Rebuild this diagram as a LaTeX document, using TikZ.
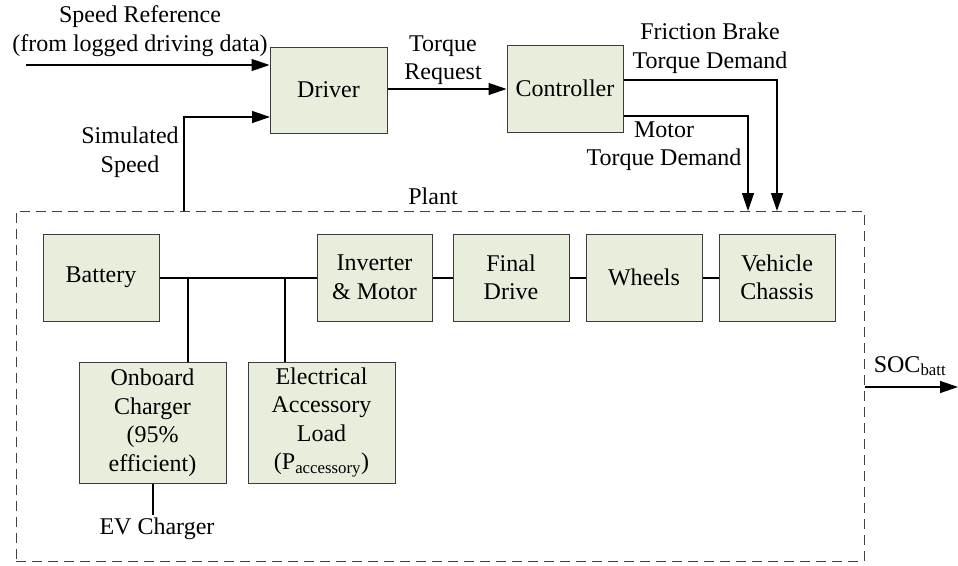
\documentclass[tikz,border=0pt]{standalone}
\usepackage{fontspec}
\setmainfont{Liberation Serif}
\setsansfont{Liberation Serif}
\newfontfamily\tnr{Liberation Serif}
\usetikzlibrary{arrows.meta}
\definecolor{boxfill}{RGB}{232,238,220}
\definecolor{boxline}{RGB}{60,60,60}
\tikzset{
  blk/.style={draw=boxline, fill=boxfill, line width=1pt, inner sep=0pt, align=center},
  lbl/.style={inner sep=0pt, align=center},
  wire/.style={line width=1.3pt, black},
  arr/.style={wire, -{Triangle[length=18pt,width=12pt]}},
  plantbox/.style={draw=black!75, dash pattern=on 10pt off 6pt, line width=1pt, inner sep=0pt}
}
\begin{document}
\begin{tikzpicture}[x=1pt,y=-1pt,font=\rmfamily\tnr\fontsize{24}{28.5}\selectfont]
\useasboundingbox (0,0) rectangle (958,565);
% top blocks
\node[blk, minimum width=117pt, minimum height=86pt] (driver) at (328.5,90) {Driver};
\node[blk, minimum width=116pt, minimum height=87pt] (controller) at (565,88.5) {Controller};
% plant
\node[plantbox, minimum width=848pt, minimum height=350pt] (plant) at (440,386) {};
\node[lbl] (plantlbl) at (433,196) {Plant};
% plant blocks
\node[blk, minimum width=116pt, minimum height=87pt] (battery) at (101,277.5) {Battery};
\node[blk, minimum width=115pt, minimum height=87pt] (inverter) at (374.5,277.5) {Inverter\\\& Motor};
\node[blk, minimum width=116pt, minimum height=87pt] (final) at (511,277.5) {Final\\Drive};
\node[blk, minimum width=116pt, minimum height=87pt] (wheels) at (644,277.5) {Wheels};
\node[blk, minimum width=116pt, minimum height=87pt] (chassis) at (777,277.5) {Vehicle\\Chassis};
\node[blk, minimum width=147pt, minimum height=121pt] (onboard) at (152.5,422.5) {Onboard\\Charger\\(95\%\\efficient)};
\node[blk, minimum width=147pt, minimum height=121pt] (elec) at (321.5,422.5) {Electrical\\Accessory\\Load\\(P\textsubscript{accessory})};
% labels
\node[lbl] (srlbl) at (140,31) {Speed Reference\\(from logged driving data)};
\node[lbl] (simlbl) at (130,152) {Simulated\\Speed};
\node[lbl] (trlbl) at (443,60) {Torque\\Request};
\node[lbl] (fblbl) at (710,48) {Friction Brake\\Torque Demand};
\node[lbl] (mtlbl) at (664,146) {Motor\\Torque Demand};
\node[lbl] (evlbl) at (157,529) {EV Charger};
\node[lbl] (soclbl) at (910,366) {SOC\textsubscript{batt}};
% coordinates
\coordinate (sr) at (26,65);
\coordinate (ss) at (184,211);
\coordinate (din2) at (270,117);
\coordinate (fb) at (777,80);
\coordinate (fbend) at (777,211);
\coordinate (mt) at (748,116);
\coordinate (mtend) at (748,211);
\coordinate (j1) at (188,278);
\coordinate (j2) at (285,278);
\coordinate (ev) at (153,515);
\coordinate (soc) at (958,387);
% connectors
\draw[arr] (sr) -- (driver.west |- sr);
\draw[arr] (ss) |- (din2);
\draw[arr] (driver.east |- 0,89) -- (controller.west |- 0,89);
\draw[arr] (controller.east |- fb) -| (fbend);
\draw[arr] (controller.east |- mt) -| (mtend);
\draw[wire] (battery.east |- j1) -- (inverter.west |- j1);
\draw[wire] (j1) -- (onboard.north -| j1);
\draw[wire] (j2) -- (elec.north -| j2);
\draw[wire] (inverter.east |- j1) -- (final.west |- j1);
\draw[wire] (final.east |- j1) -- (wheels.west |- j1);
\draw[wire] (wheels.east |- j1) -- (chassis.west |- j1);
\draw[wire] (onboard.south -| ev) -- (ev);
\draw[arr] (plant.east |- soc) -- (soc);
\end{tikzpicture}
\end{document}
